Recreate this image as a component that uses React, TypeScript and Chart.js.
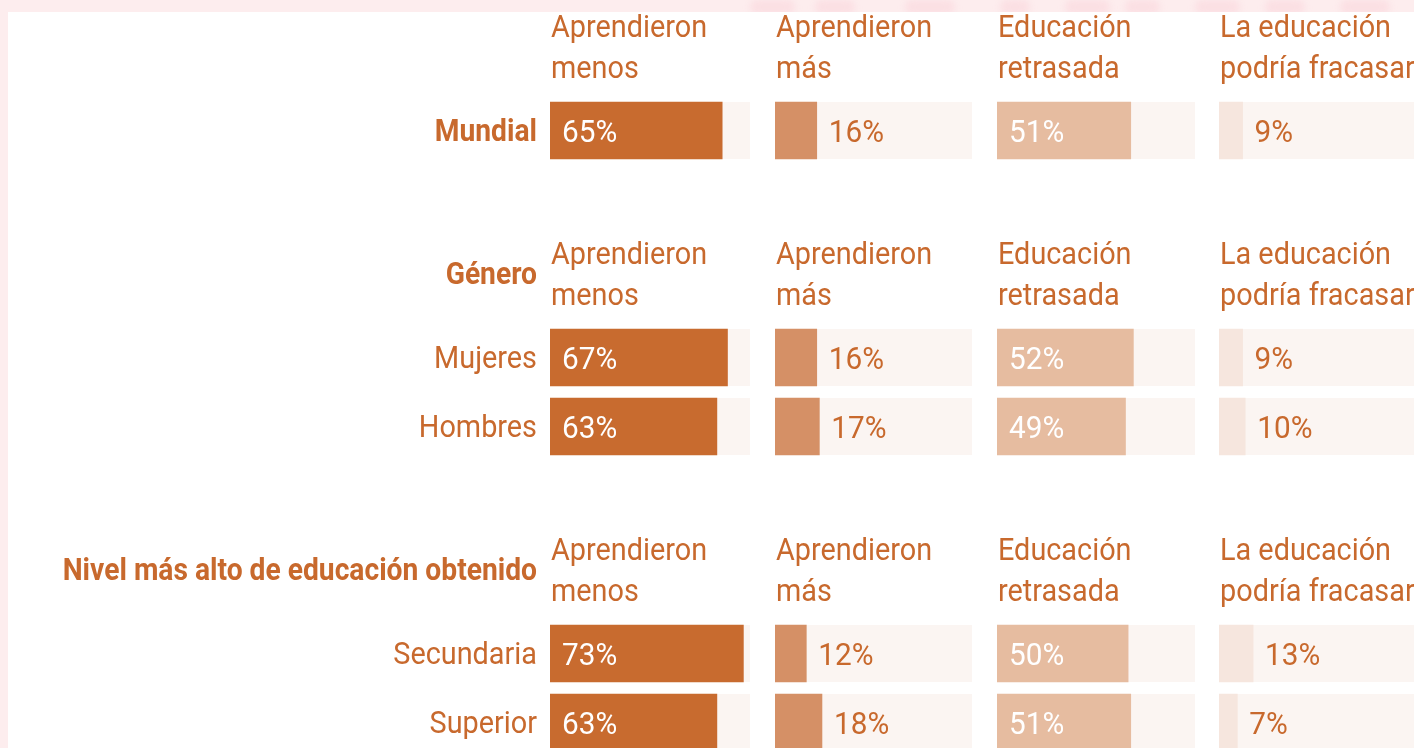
import React, { useEffect, useRef } from 'react';
import { Chart, registerables } from 'chart.js';

Chart.register(...registerables);

// ---- data ----
const columnHeaders: string[][] = [
  ['Aprendieron', 'menos'],
  ['Aprendieron', 'más'],
  ['Educación', 'retrasada'],
  ['La educación', 'podría fracasar'],
];
const groupTitles = ['Mundial', 'Género', 'Nivel más alto de educación obtenido'];
const groupRows: string[][] = [['Mundial'], ['Mujeres', 'Hombres'], ['Secundaria', 'Superior']];
const aprendieronMenos: number[][] = [[65], [67, 63], [73, 63]];
const aprendieronMas: number[][] = [[16], [16, 17], [12, 18]];
const educacionRetrasada: number[][] = [[51], [52, 49], [50, 51]];
const podriaFracasar: number[][] = [[9], [9, 10], [13, 7]];
const seriesByColumn = [aprendieronMenos, aprendieronMas, educacionRetrasada, podriaFracasar];
const scaleMax = 75.5;

// ---- style ----
const barColors = ['#C86B2F', '#D59066', '#E6BCA0', '#F6E6DE'];
const labelInside = [true, false, true, false];
const trackColor = '#FBF5F2';
const textColor = '#C8692D';
const FONT = 'Roboto';
const SX_REG = 0.93;
const SX_BOLD = 0.91;
const colWeights = [200, 197, 198, 198];
const gapWeights = [25, 25, 24];
const LEFT = 550;
const HEADER_SPACE = 96;
const ROW_PITCH = 69;
const BAR_THICK = 57;

function drawText(
  ctx: CanvasRenderingContext2D,
  text: string,
  x: number,
  y: number,
  size: number,
  bold: boolean,
  color: string,
  align: CanvasTextAlign
) {
  ctx.save();
  ctx.font = `${bold ? 'bold ' : ''}${size}px ${FONT}`;
  ctx.fillStyle = color;
  ctx.textAlign = align;
  ctx.textBaseline = 'alphabetic';
  ctx.translate(x, y);
  ctx.scale(bold ? SX_BOLD : SX_REG, 1);
  ctx.fillText(text, 0, 0);
  ctx.restore();
}

function GroupChart({ gi }: { gi: number }) {
  const ref = useRef<HTMLCanvasElement | null>(null);
  useEffect(() => {
    if (!ref.current) return;
    const rows = groupRows[gi];
    const title = groupTitles[gi];
    const titleIsRow = rows.length === 1 && rows[0] === title;

    const scales: any = {
      y: { type: 'category', axis: 'y', display: false, offset: true },
    };
    for (let c = 0; c < 4; c++) {
      scales['x' + c] = {
        type: 'linear',
        axis: 'x',
        position: 'bottom',
        stack: 'cols',
        stackWeight: colWeights[c],
        min: 0,
        max: scaleMax,
        display: false,
      };
      if (c < 3) {
        scales['gap' + c] = {
          type: 'linear',
          axis: 'x',
          position: 'bottom',
          stack: 'cols',
          stackWeight: gapWeights[c],
          min: 0,
          max: 1,
          display: false,
        };
      }
    }

    const plugin = {
      id: 'tableText',
      beforeDatasetsDraw(chart: any) {
        const ctx = chart.ctx as CanvasRenderingContext2D;
        for (let c = 0; c < 4; c++) {
          const meta = chart.getDatasetMeta(c);
          const xs = chart.scales[meta.xAxisID];
          ctx.save();
          ctx.fillStyle = trackColor;
          meta.data.forEach((el: any) => {
            ctx.fillRect(xs.left, el.y - el.height / 2, xs.right - xs.left, el.height);
          });
          ctx.restore();
        }
      },
      afterDatasetsDraw(chart: any) {
        const ctx = chart.ctx as CanvasRenderingContext2D;
        const area = chart.chartArea;
        const ys = chart.scales.y;
        for (let c = 0; c < 4; c++) {
          const meta = chart.getDatasetMeta(c);
          meta.data.forEach((el: any, i: number) => {
            const v = seriesByColumn[c][gi][i];
            const txt = `${v}%`;
            if (labelInside[c]) {
              drawText(ctx, txt, el.base + 12, el.y + 11.5, 32, false, '#FFFFFF', 'left');
            } else {
              drawText(ctx, txt, el.x + 12, el.y + 11.5, 32, false, textColor, 'left');
            }
          });
          const xs = chart.scales[meta.xAxisID];
          const lines = columnHeaders[c];
          drawText(ctx, lines[0], xs.left + 1, area.top - 59, 31, false, textColor, 'left');
          drawText(ctx, lines[1], xs.left + 1, area.top - 18, 31, false, textColor, 'left');
        }
        rows.forEach((r, i) => {
          const y = ys.getPixelForValue(i);
          drawText(ctx, r, area.left - 13, y + 10, 31, titleIsRow, textColor, 'right');
        });
        if (!titleIsRow) {
          drawText(ctx, title, area.left - 13, area.top - 39, 31, true, textColor, 'right');
        }
      },
    };

    const chart = new Chart(ref.current, {
      type: 'bar',
      data: {
        labels: rows,
        datasets: seriesByColumn.map((s, c) => ({
          label: columnHeaders[c].join(' '),
          data: s[gi],
          xAxisID: 'x' + c,
          yAxisID: 'y',
          backgroundColor: barColors[c],
          borderWidth: 0,
          grouped: false,
          barThickness: BAR_THICK,
        })),
      },
      options: {
        indexAxis: 'y',
        responsive: false,
        animation: false,
        events: [],
        layout: { padding: { left: LEFT, top: HEADER_SPACE, right: 0, bottom: 0 } },
        plugins: { legend: { display: false }, tooltip: { enabled: false }, title: { display: false } },
        scales,
      } as any,
      plugins: [plugin],
    });
    return () => chart.destroy();
  }, [gi]);

  const totalW = LEFT + colWeights.reduce((a, b) => a + b, 0) + gapWeights.reduce((a, b) => a + b, 0);
  const h = HEADER_SPACE + groupRows[gi].length * ROW_PITCH;
  return <canvas ref={ref} width={totalW} height={h} style={{ display: 'block', width: totalW, height: h }} />;
}

const bandBlobs = [
  [750, 45], [815, 40], [905, 50], [1000, 30], [1065, 45], [1125, 35], [1195, 45], [1265, 40], [1340, 50],
];

export default function App() {
  const tops = [0, 227, 523];
  return (
    <div
      style={{
        position: 'fixed',
        left: 0,
        top: 0,
        width: '100vw',
        height: '100vh',
        overflow: 'hidden',
        background: '#FDEDEE',
      }}
    >
      {bandBlobs.map(([x, w], i) => (
        <div
          key={i}
          style={{
            position: 'absolute',
            left: x,
            top: 0,
            width: w,
            height: 14,
            background: '#FBDFE3',
            borderRadius: 8,
            filter: 'blur(3px)',
          }}
        />
      ))}
      <div style={{ position: 'absolute', left: 8, top: 12, right: -20, bottom: -20, background: '#FFFFFF' }} />
      {[0, 1, 2].map((gi) => (
        <div key={gi} style={{ position: 'absolute', left: 0, top: tops[gi] }}>
          <GroupChart gi={gi} />
        </div>
      ))}
    </div>
  );
}
